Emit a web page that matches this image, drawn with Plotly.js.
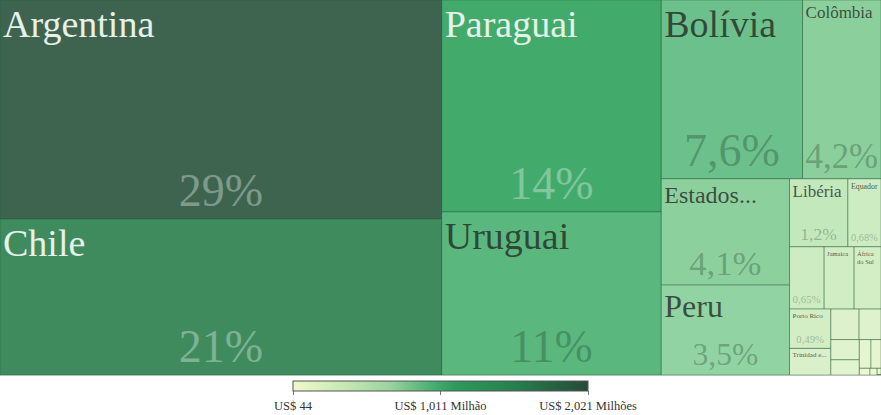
<!DOCTYPE html>
<html>
<head>
<meta charset="utf-8">
<script src="https://cdn.plot.ly/plotly-3.0.1.min.js"></script>
<style>html,body{margin:0;padding:0;background:#fff;}#chart{width:881px;height:415px;}</style>
</head>
<body>
<div id="chart"></div>
<script>
// ---- data (US$) ----
const countries = ["Argentina","Chile","Paraguai","Uruguai","Bolívia","Colômbia","Estados Unidos","Peru",
  "Libéria","Equador","Outro 1","Jamaica","África do Sul","Porto Rico","Trinidad e Tobago",
  "Outro 2","Outro 3","Outro 4","Outro 5","Outro 6","Outro 7","Outro 8","Outro 9","Outro 10","Outro 11"];
const values = [2021000,1440000,972000,748000,528000,293000,285000,241000,
  83000,47000,45000,39000,35000,34000,23000,
  18000,14000,12000,9000,7000,6000,1500,1000,500,44];
const shownNames = ["Argentina","Chile","Paraguai","Uruguai","Bolívia","Colômbia","Estados...","Peru",
  "Libéria","Equador","","Jamaica","África<br>do Sul","Porto Rico","Trinidad e...",
  "","","","","","","","","",""];
const showPct = [1,1,1,1,1,1,1,1,1,1,1,0,0,1,0,0,0,0,0,0,0,0,0,0,0];
const tickVals = [44, 1010522, 2021000];
const tickText = ["US$ 44","US$ 1,011 Milhão","US$ 2,021 Milhões"];

// ---- styles ----
const nameSizes = [38,38,38,38,38,17,24,32,17,8,6,6.5,6.5,7,7,6,6,6,6,6,6,6,6,6,6];

const total = values.reduce((a,b)=>a+b,0);
const shares = values.map(v=>v/total);
const pctText = shares.map((s,i)=> showPct[i] ? (s*100).toPrecision(2).replace('.',',')+'%' : '');
const dark = values.map(v => v > 900000);
const nameColors = dark.map(d => d ? '#e6f1e9' : 'rgba(35,40,35,0.78)');
const pctColors = dark.map(d => d ? 'rgba(235,245,238,0.38)' : 'rgba(20,45,28,0.3)');
const pctSizes = shares.map(s => Math.max(9, Math.min(46, 200*Math.pow(s,0.55))));
const cmin = Math.min(...values), cmax = Math.max(...values);

const cellScale = [[0,'#eef8d2'],[0.005,'#e0f3cf'],[0.017,'#d3eec5'],[0.023,'#cdecc2'],[0.041,'#c3e8bc'],
  [0.12,'#92d3a3'],[0.145,'#8bcf9d'],[0.26,'#6cc08c'],[0.37,'#5ab87f'],[0.48,'#42ab6c'],
  [0.71,'#3f8b5e'],[1,'#3e6450']];
const barScale = [[0,'#f0f9cc'],[0.17,'#c8e8b4'],[0.33,'#9bd39c'],[0.45,'#56b47a'],[0.5,'#3ea76a'],
  [0.55,'#2d9a5b'],[0.75,'#27804c'],[0.9,'#265f40'],[1,'#254c37']];

const serif = 'Liberation Serif';
const common = {
  type:'treemap', labels:countries, parents:countries.map(()=>''), values:values,
  sort:true, branchvalues:'remainder',
  tiling:{packing:'squarify', squarifyratio:1.618034, pad:0},
  pathbar:{visible:false}, domain:{x:[0,1],y:[0,1]}
};
const cells = Object.assign({}, common, {
  text: shownNames, texttemplate:'%{text}', textposition:'top left',
  textfont:{family:serif, size:nameSizes, color:nameColors},
  marker:{colors:values, colorscale:cellScale, cmin:cmin, cmax:cmax, showscale:false,
    line:{width:1, color:'rgba(30,90,50,0.4)'}, pad:{t:0,l:0,r:0,b:0}},
  hoverinfo:'label+value+percent root'
});
const pcts = Object.assign({}, common, {
  text: pctText, texttemplate:'%{text}', textposition:'bottom center',
  textfont:{family:serif, size:pctSizes, color:pctColors},
  marker:{colors:values.map(()=>'rgba(0,0,0,0)'), line:{width:0}, pad:{t:0,l:0,r:0,b:0}},
  hoverinfo:'skip'
});
const bar = {
  type:'scatter', x:[null], y:[null], mode:'markers', hoverinfo:'skip', showlegend:false,
  marker:{color:[cmin], cmin:cmin, cmax:cmax, colorscale:barScale, showscale:true,
    colorbar:{orientation:'h', x:0.5, xanchor:'center', y:-0.016, yanchor:'top', ypad:0, xpad:0,
      len:295, lenmode:'pixels', thickness:10, thicknessmode:'pixels',
      outlinewidth:1, outlinecolor:'#555', borderwidth:0,
      ticks:'outside', ticklen:4, tickcolor:'#777',
      tickvals:tickVals, ticktext:tickText, tickfont:{family:serif, size:12.5, color:'#333'}}}
};
Plotly.newPlot('chart', [bar, cells, pcts], {
  width:881, height:415, margin:{l:0,r:0,t:0,b:40},
  paper_bgcolor:'#fff', plot_bgcolor:'#fff',
  font:{family:serif},
  xaxis:{visible:false}, yaxis:{visible:false},
  showlegend:false
}, {displayModeBar:false, staticPlot:true});
</script>
</body>
</html>
